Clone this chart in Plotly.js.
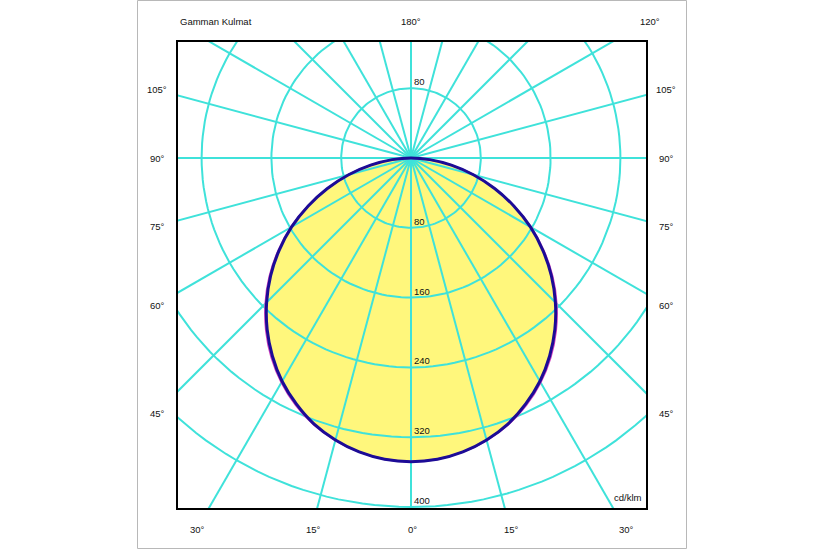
<!DOCTYPE html>
<html>
<head>
<meta charset="utf-8">
<script src="https://cdn.plot.ly/plotly-3.0.1.min.js"></script>
<style>html,body{margin:0;padding:0;background:#fff;}#chart{width:825px;height:550px;}</style>
</head>
<body>
<div id="chart"></div>
<script>
// ---- data (cd/klm) ----
const gammaAngles   = [0,5,10,15,20,25,30,35,40,45,50,55,60,65,70,75,80,85,90];
const intensityC0   = [348,346.5,342,334.5,324.5,311,295.5,277,256.5,234,210,184.5,158,130,102,74,47,21.5,0];
const intensityC180 = [348,346.5,342,334.5,324.5,311,295.5,277,256.5,234,210,184.5,158,130,102,74,47,21.5,0];
const intensityC90  = [348,346.5,342,335,325.5,312.5,297,279,258.5,236,212,186,159,130.5,102,74,47,21.5,0];
const intensityC270 = [348,346.5,342,335,325.5,312.5,297,279,258.5,236,212,186,159,130.5,102,74,47,21.5,0];
const radialTicks   = [80,160,240,320,400];
const spokeAngles   = [0,15,30,45,60,75,90,105,120,135,150,165,180,195,210,225,240,255,270,285,300,315,330,345];
const unitLabel     = "cd/klm";
const chartTitle    = "Gamman Kulmat";

const rad = d => d*Math.PI/180;

// half-plane curve: right side = +sin, left side = -sin; 0° points down
function curve(leftVals, rightVals){
  const x=[], y=[];
  for(let i=gammaAngles.length-1;i>=0;i--){ const g=rad(gammaAngles[i]); x.push(-leftVals[i]*Math.sin(g)); y.push(-leftVals[i]*Math.cos(g)); }
  for(let i=1;i<gammaAngles.length;i++){ const g=rad(gammaAngles[i]); x.push(rightVals[i]*Math.sin(g)); y.push(-rightVals[i]*Math.cos(g)); }
  return {x,y};
}
const mainCurve = curve(intensityC180, intensityC0);
const sideCurve = curve(intensityC270, intensityC90);

// grid
const gx=[], gy=[];
radialTicks.forEach(r=>{
  for(let a=0;a<=360;a+=2){ gx.push(r*Math.sin(rad(a))); gy.push(-r*Math.cos(rad(a))); }
  gx.push(null); gy.push(null);
});
const spokeLen = 600;
spokeAngles.forEach(a=>{
  gx.push(0, spokeLen*Math.sin(rad(a)), null);
  gy.push(0, -spokeLen*Math.cos(rad(a)), null);
});

const cyan = '#3fe2da';
const traces = [
  {x:mainCurve.x, y:mainCurve.y, mode:'lines', fill:'toself', fillcolor:'#fff77c', line:{width:0,color:'rgba(0,0,0,0)', shape:'spline', smoothing:1}, hoverinfo:'skip'},
  {x:gx, y:gy, mode:'lines', line:{color:cyan, width:2}, hoverinfo:'skip'},
  {x:sideCurve.x, y:sideCurve.y, mode:'lines', line:{color:'#d040c0', width:2, shape:'spline', smoothing:1}, hoverinfo:'skip'},
  {x:mainCurve.x, y:mainCurve.y, mode:'lines', line:{color:'#1c0c96', width:3, shape:'spline', smoothing:1}, hoverinfo:'skip'}
];

// plot box in pixels
const L=178, R=646, T=42, B=508;
const px = v => (v-L)/(R-L);
const py = v => (B-v)/(B-T);
const font = {family:'Arial, "Liberation Sans", sans-serif', size:9.5, color:'#111'};

const ann = [];
function lab(text, x, y, xa){ ann.push({text, x:px(x), y:py(y), xref:'paper', yref:'paper', xanchor:xa||'center', yanchor:'middle', showarrow:false, font}); }
lab(chartTitle, 178, 21, 'left');
lab('180°', 411, 21);
lab('120°', 650, 21);
const sideLabels = ['105°','90°','75°','60°','45°'];
const sideY = [90,158,226,305,413];
sideLabels.forEach((t,i)=>{ lab(t,157,sideY[i]); lab(t,666,sideY[i]); });
const bottomLabels = ['30°','15°','0°','15°','30°'];
const bottomX = [197,313,412,511,626];
bottomLabels.forEach((t,i)=>lab(t,bottomX[i],529));
ann.push({text:unitLabel, x:1, y:0, xref:'paper', yref:'paper', xanchor:'right', yanchor:'bottom', xshift:-2, yshift:3, showarrow:false, font});

// radial value labels along the 0° axis, plus the first ring above centre
radialTicks.forEach(r=>{
  ann.push({text:String(r), x:0, y:-r, xanchor:'left', yanchor:'bottom', xshift:1, yshift:-1, showarrow:false, font});
});
ann.push({text:String(radialTicks[0]), x:0, y:radialTicks[0], xanchor:'left', yanchor:'bottom', xshift:1, yshift:-1, showarrow:false, font});

const scale = 0.8725; // px per unit
const layout = {
  width:825, height:550,
  margin:{l:L, r:825-R, t:T, b:550-B, pad:0},
  paper_bgcolor:'#fff', plot_bgcolor:'#fff',
  showlegend:false,
  xaxis:{range:[-(411-L)/scale, (R-411)/scale], showgrid:false, zeroline:false, showticklabels:false, ticks:'', showline:true, mirror:true, linecolor:'#000', linewidth:2, fixedrange:true},
  yaxis:{range:[-(B-158)/scale, (158-T)/scale], showgrid:false, zeroline:false, showticklabels:false, ticks:'', showline:true, mirror:true, linecolor:'#000', linewidth:2, fixedrange:true},
  annotations:ann,
  shapes:[{type:'rect', xref:'paper', yref:'paper', x0:px(137.5), x1:px(686.5), y0:py(548.5), y1:py(0.5), line:{color:'#b8b8b8', width:1}, layer:'below'}]
};
Plotly.newPlot('chart', traces, layout, {displayModeBar:false, staticPlot:true});
</script>
</body>
</html>
